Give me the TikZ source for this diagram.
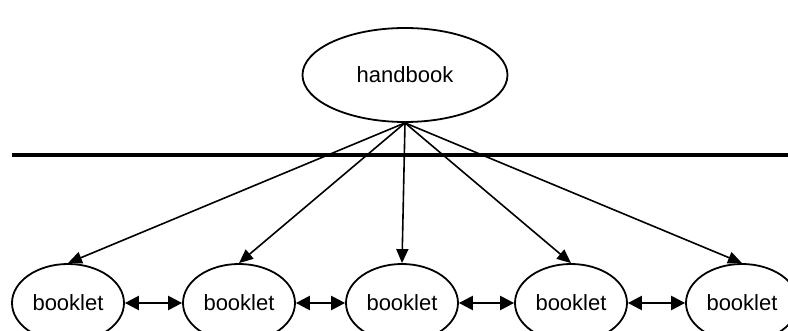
\documentclass[tikz,border=0pt]{standalone}
\usepackage{fontspec}
\setmainfont{Liberation Sans}
\usetikzlibrary{shapes.geometric,arrows.meta}
\begin{document}
\begin{tikzpicture}[x=1pt,y=-1pt,
  ell/.style={ellipse,draw,line width=1.8pt,inner sep=0pt,font=\fontsize{22}{26}\selectfont},
  hb/.style={ell,minimum width=205pt,minimum height=94pt},
  bk/.style={ell,minimum width=112pt,minimum height=78pt},
  arr/.style={line width=1.6pt,-{Triangle[length=14pt,width=12pt]}},
  darr/.style={line width=2.4pt,{Triangle[length=14pt,width=14pt]}-{Triangle[length=14pt,width=14pt]}}]
\useasboundingbox (0,0) rectangle (788,331);
\node[hb] (h) at (405,75) {handbook};
\coordinate (l1) at (12,155);
\coordinate (l2) at (788,155);
\draw[line width=4.5pt] (l1) -- (l2);
\node[bk] (b1) at (68,303) {booklet};
\node[bk] (b2) at (239,303) {booklet};
\node[bk] (b3) at (402,303) {booklet};
\node[bk] (b4) at (571,303) {booklet};
\node[bk] (b5) at (742,303) {booklet};
\foreach \i in {1,...,5} \draw[arr] (h.south) -- (b\i.north);
\draw[darr] (b1) -- (b2);
\draw[darr] (b2) -- (b3);
\draw[darr] (b3) -- (b4);
\draw[darr] (b4) -- (b5);
\end{tikzpicture}
\end{document}
